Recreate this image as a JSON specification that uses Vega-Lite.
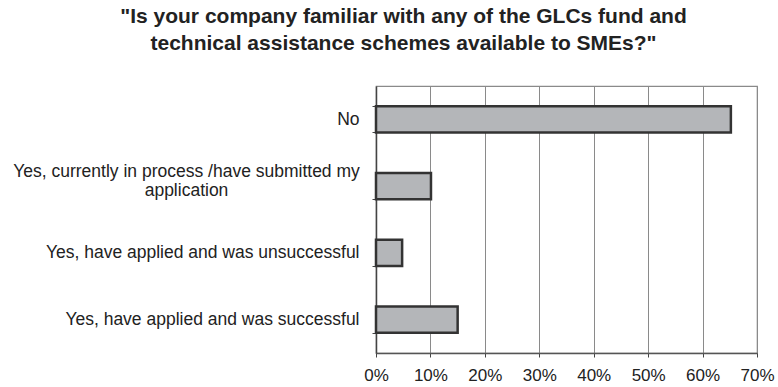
{
  "$schema": "https://vega.github.io/schema/vega-lite/v6.json",
  "width": 381,
  "height": 267,
  "autosize": "none",
  "padding": {"left": 376, "top": 86, "right": 21, "bottom": 34},
  "background": "white",
  "title": {
    "text": ["\"Is your company familiar with any of the GLCs fund and", "technical assistance schemes available to SMEs?\""],
    "font": "Liberation Sans",
    "fontSize": 21,
    "fontWeight": "bold",
    "color": "#222222",
    "lineHeight": 27,
    "anchor": "middle",
    "dx": -163,
    "offset": 23
  },
  "config": {
    "view": {"stroke": "#8a8a8a", "strokeWidth": 1.2},
    "axis": {"labelFont": "Liberation Sans", "labelColor": "#222222"}
  },
  "data": {
    "values": [
      {"response": "No", "pct": 65.2},
      {"response": "Yes, currently in process /have submitted my application", "pct": 10.1},
      {"response": "Yes, have applied and was unsuccessful", "pct": 4.8},
      {"response": "Yes, have applied and was successful", "pct": 15.0}
    ]
  },
  "mark": {"type": "bar", "fill": "#b4b6b9", "stroke": "#333333", "strokeWidth": 2.5},
  "encoding": {
    "y": {
      "field": "response",
      "type": "nominal",
      "sort": null,
      "scale": {"paddingInner": 0.61, "paddingOuter": 0.305},
      "axis": {
        "title": null,
        "tickBand": "extent",
        "tickSize": 4,
        "tickColor": "#444444",
        "domainColor": "#444444",
        "domainWidth": 1.5,
        "labelFontSize": 17.5,
        "labelLineHeight": 19,
        "labelLimit": 400,
        "labelAlign": {"condition": {"test": "datum.value == 'Yes, currently in process /have submitted my application'", "value": "center"}, "value": "right"},
        "labelPadding": {"condition": {"test": "datum.value == 'Yes, currently in process /have submitted my application'", "value": 186}, "value": 13},
        "labelOffset": {"condition": {"test": "datum.value == 'Yes, currently in process /have submitted my application'", "value": -14.5}, "value": 0},
        "labelExpr": "datum.label == 'Yes, currently in process /have submitted my application' ? ['Yes, currently in process /have submitted my', 'application'] : datum.label"
      }
    },
    "x": {
      "field": "pct",
      "type": "quantitative",
      "scale": {"domain": [0, 70], "nice": false},
      "axis": {
        "title": null,
        "values": [0, 10, 20, 30, 40, 50, 60, 70],
        "labelExpr": "datum.value + '%'",
        "labelFontSize": 17,
        "labelPadding": 10,
        "labelFlush": false,
        "tickSize": 4,
        "tickColor": "#444444",
        "domainColor": "#555555",
        "domainWidth": 1.5,
        "grid": true,
        "gridColor": "#8a8a8a",
        "gridWidth": 1,
        "gridOpacity": 1
      }
    }
  }
}
